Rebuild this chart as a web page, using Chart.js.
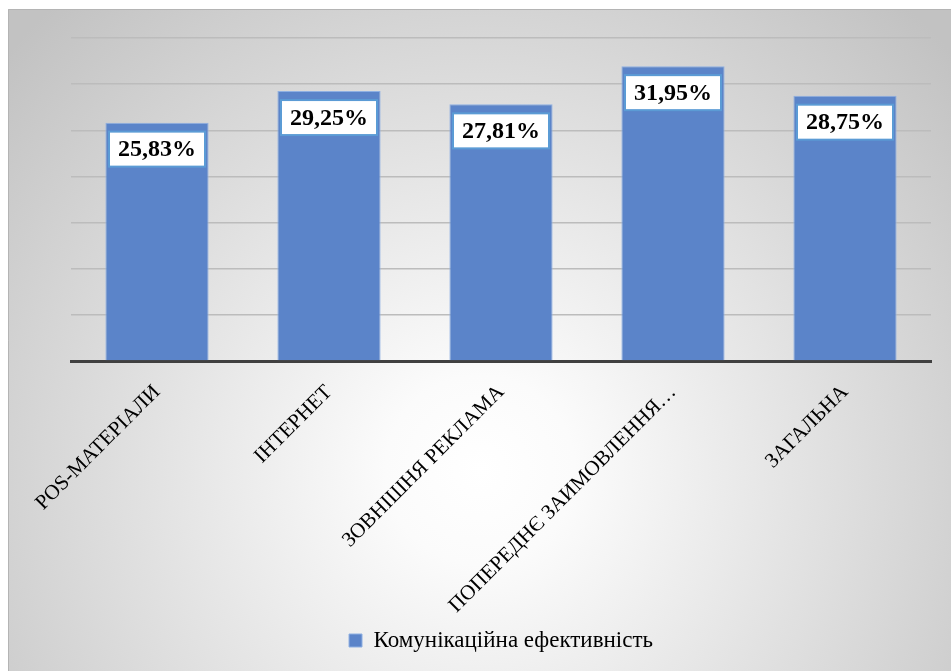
<!DOCTYPE html>
<html>
<head>
<meta charset="utf-8">
<script src="https://cdn.jsdelivr.net/npm/chart.js@4"></script>
<style>
  body { margin: 0; background: #fff; }
  #wrap { width: 951px; height: 671px; position: relative; }
</style>
</head>
<body>
<div id="wrap"><canvas id="chart"></canvas></div>
<script>
var categories = ['POS-МАТЕРІАЛИ', 'ІНТЕРНЕТ', 'ЗОВНІШНЯ РЕКЛАМА', 'ПОПЕРЕДНЄ ЗАИМОВЛЕННЯ…', 'ЗАГАЛЬНА'];
var efficiency = [25.83, 29.25, 27.81, 31.95, 28.75];
var seriesName = 'Комунікаційна ефективність';
var yTicks = { min: 0, max: 35, step: 5 };

var serif = '"Liberation Serif", "Times New Roman", serif';

function formatValue(v) {
    return v.toFixed(2).replace('.', ',') + '%';
}

// gray radial background with the thin frame on top/left
var backgroundPlugin = {
    id: 'bg',
    beforeDraw: function (chart) {
        var ctx = chart.ctx;
        ctx.save();
        ctx.fillStyle = '#ffffff';
        ctx.fillRect(0, 0, chart.width, chart.height);
        var g = ctx.createRadialGradient(480, 470, 0, 480, 470, 630);
        g.addColorStop(0, '#ffffff');
        g.addColorStop(0.15, '#fbfbfb');
        g.addColorStop(1, '#c2c2c2');
        ctx.fillStyle = g;
        ctx.fillRect(8, 9, chart.width - 8, chart.height - 9);
        ctx.strokeStyle = '#b4b4b4';
        ctx.lineWidth = 1;
        ctx.beginPath();
        ctx.moveTo(8.5, chart.height);
        ctx.lineTo(8.5, 9.5);
        ctx.lineTo(chart.width, 9.5);
        ctx.stroke();
        ctx.restore();
    }
};

// white boxed value labels inside the top of each bar
var valueLabels = {
    id: 'valueLabels',
    afterDatasetsDraw: function (chart) {
        var ctx = chart.ctx;
        var meta = chart.getDatasetMeta(0);
        ctx.save();
        ctx.font = 'bold 24px ' + serif;
        ctx.textAlign = 'center';
        ctx.textBaseline = 'middle';
        meta.data.forEach(function (bar, i) {
            var text = formatValue(efficiency[i]);
            var w = ctx.measureText(text).width + 18;
            var h = 35;
            var top = bar.y + 9;
            ctx.fillStyle = '#ffffff';
            ctx.fillRect(bar.x - w / 2, top, w, h);
            ctx.strokeStyle = '#5b9bd5';
            ctx.lineWidth = 2;
            ctx.strokeRect(bar.x - w / 2, top, w, h);
            ctx.fillStyle = '#000000';
            ctx.fillText(text, bar.x, top + h / 2 + 1);
        });
        ctx.restore();
    }
};

var ctx = document.getElementById('chart');
new Chart(ctx, {
    type: 'bar',
    data: {
        labels: categories,
        datasets: [{
            label: seriesName,
            data: efficiency,
            backgroundColor: '#5b84c9',
            borderColor: '#8fb0e2',
            borderWidth: 1,
            categoryPercentage: 1,
            barPercentage: 0.6
        }]
    },
    options: {
        responsive: true,
        maintainAspectRatio: false,
        animation: false,
        layout: { padding: { left: 71, right: 20, top: 38, bottom: 9 } },
        scales: {
            x: {
                grid: { display: false },
                border: { display: true, color: '#404040', width: 3 },
                ticks: {
                    autoSkip: false,
                    minRotation: 45,
                    maxRotation: 45,
                    padding: 11,
                    color: '#000000',
                    font: { family: serif, size: 21 }
                },
                afterFit: function (scale) { scale.height = 258; }
            },
            y: {
                min: yTicks.min,
                max: yTicks.max,
                ticks: { display: false, stepSize: yTicks.step },
                grid: { color: '#bcbcbc', lineWidth: 1.5, drawTicks: false },
                border: { display: false }
            }
        },
        plugins: {
            legend: {
                position: 'bottom',
                labels: {
                    boxWidth: 13,
                    boxHeight: 13,
                    color: '#000000',
                    font: { family: serif, size: 23 }
                }
            },
            tooltip: { enabled: false }
        }
    },
    plugins: [backgroundPlugin, valueLabels]
});
</script>
</body>
</html>
